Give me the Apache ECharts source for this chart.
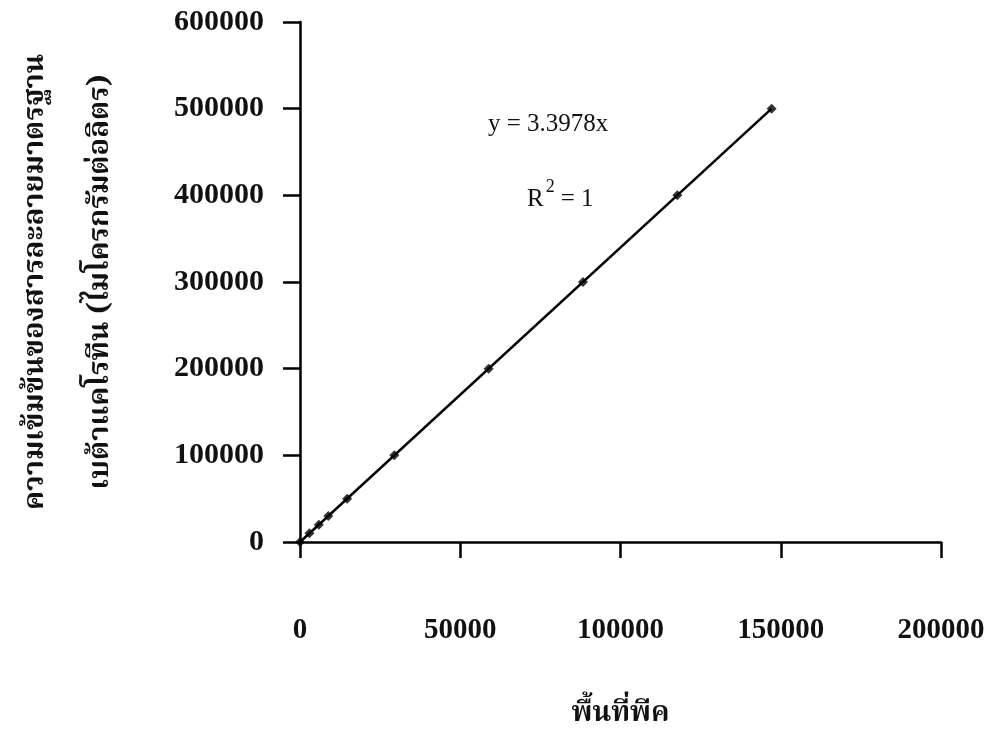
<!DOCTYPE html>
<html>
<head>
<meta charset="utf-8">
<script src="https://cdn.jsdelivr.net/npm/echarts@6/dist/echarts.min.js"></script>
<style>
html,body{margin:0;padding:0;background:#fff;}
#chart{width:992px;height:733px;}
</style>
</head>
<body>
<div id="chart"></div>
<script>
// Data
var peakArea = [0, 2943, 5886, 8829, 14715, 29430, 58860, 88290, 117720, 147150];
var concentration = [0, 10000, 20000, 30000, 50000, 100000, 200000, 300000, 400000, 500000];
var trendX = [0, 147150];
var trendY = [0, 500000];
var xTicks = [0, 50000, 100000, 150000, 200000];
var yTicks = [0, 100000, 200000, 300000, 400000, 500000, 600000];
var xTitle = 'พื้นที่พีค';
var yTitle = 'ความเข้มข้นของสารละลายมาตรฐาน\nเบต้าแคโรทีน (ไมโครกรัมต่อลิตร)';
var eqText = 'y = 3.3978x';

var serif = '"Liberation Serif", "Times New Roman", serif';
var thai = '"Noto Serif Thai", "Noto Sans Thai Looped", "Noto Sans Thai", "Liberation Serif", serif';

var scatterData = peakArea.map(function (x, i) { return [x, concentration[i]]; });
var trendData = trendX.map(function (x, i) { return [x, trendY[i]]; });

var chart = echarts.init(document.getElementById('chart'), null, {renderer: 'canvas'});
chart.setOption({
  backgroundColor: '#ffffff',
  animation: false,
  grid: {left: 300, right: 51, top: 22, bottom: 191, containLabel: false, outerBoundsMode: 'none'},
  xAxis: {
    type: 'value',
    min: xTicks[0], max: xTicks[xTicks.length - 1], interval: xTicks[1] - xTicks[0],
    splitLine: {show: false},
    axisLine: {show: true, onZero: false, lineStyle: {color: '#000', width: 2.5}},
    axisTick: {show: true, inside: false, length: 16, lineStyle: {color: '#000', width: 2.5}},
    axisLabel: {margin: 74, color: '#111', fontFamily: serif, fontWeight: 'bold', fontSize: 29,
      formatter: function (v) { return String(v); }},
    name: xTitle,
    nameLocation: 'middle',
    nameGap: 160,
    nameMoveOverlap: false,
    nameTextStyle: {color: '#111', fontFamily: thai, fontWeight: 'bold', fontSize: 28}
  },
  yAxis: {
    type: 'value',
    min: yTicks[0], max: yTicks[yTicks.length - 1], interval: yTicks[1] - yTicks[0],
    splitLine: {show: false},
    axisLine: {show: true, onZero: false, lineStyle: {color: '#000', width: 2.5}},
    axisTick: {show: true, inside: false, length: 17, lineStyle: {color: '#000', width: 2.5}},
    axisLabel: {margin: 36, color: '#111', fontFamily: serif, fontWeight: 'bold', fontSize: 30,
      formatter: function (v) { return String(v); }},
    name: yTitle,
    nameLocation: 'middle',
    nameRotate: 90,
    nameGap: 164,
    nameMoveOverlap: false,
    nameTextStyle: {color: '#111', fontFamily: thai, fontWeight: 'bold', fontSize: 29, lineHeight: 65, align: 'center'}
  },
  series: [
    {
      type: 'line',
      data: trendData,
      showSymbol: false,
      symbol: 'none',
      lineStyle: {color: '#000', width: 2.5},
      z: 2
    },
    {
      type: 'scatter',
      data: scatterData,
      symbol: 'diamond',
      symbolSize: 10,
      itemStyle: {color: '#000'},
      z: 3
    }
  ],
  graphic: [
    {
      type: 'text',
      left: 488, top: 112,
      style: {text: eqText, fill: '#111', font: '25px "Liberation Serif", serif'}
    },
    {
      type: 'text',
      left: 527, top: 178,
      style: {
        text: '{b|R}{s|2}{b|= 1}',
        fill: '#111',
        rich: {
          b: {font: '25px "Liberation Serif", serif', fill: '#111', verticalAlign: 'bottom', lineHeight: 34},
          s: {font: '18px "Liberation Serif", serif', fill: '#111', verticalAlign: 'top', lineHeight: 34, padding: [0, 6, 14, 2]}
        }
      }
    }
  ]
});
</script>
</body>
</html>
